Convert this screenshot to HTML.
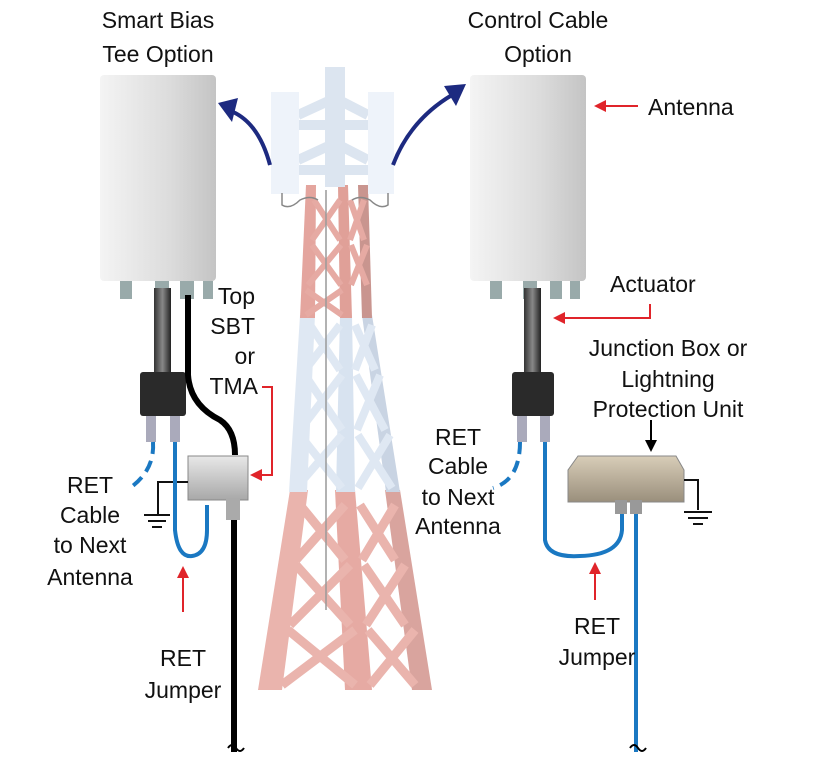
<!DOCTYPE html>
<html><head><style>
html,body{margin:0;padding:0;background:#fff;}
svg{display:block;}
text{font-family:"Liberation Sans",sans-serif;font-size:23px;fill:#111;}
</style></head><body>
<svg width="828" height="764" viewBox="0 0 828 764" xmlns="http://www.w3.org/2000/svg">
<defs>
<linearGradient id="ant" x1="0" x2="1">
<stop offset="0" stop-color="#f4f4f4"/><stop offset="0.6" stop-color="#dcdcdc"/><stop offset="1" stop-color="#c4c4c4"/>
</linearGradient>
<linearGradient id="cyl" x1="0" x2="1">
<stop offset="0" stop-color="#333"/><stop offset="0.5" stop-color="#888"/><stop offset="1" stop-color="#222"/>
</linearGradient>
<linearGradient id="box" x1="0" x2="0" y1="0" y2="1">
<stop offset="0" stop-color="#e8e8e8"/><stop offset="1" stop-color="#a8a8a8"/>
</linearGradient>
<linearGradient id="jb" x1="0" x2="0" y1="0" y2="1">
<stop offset="0" stop-color="#d8cdb8"/><stop offset="1" stop-color="#9a8f7c"/>
</linearGradient>
</defs>

<g stroke-linejoin="round">
 <polygon points="290,490 258,690 282,690 308,490" fill="#eab4ad"/>
 <polygon points="335,490 345,690 372,690 355,490" fill="#e6aaa3"/>
 <polygon points="385,490 412,690 432,690 400,490" fill="#d9a49e"/>
 <g stroke="#eab4ad" stroke-width="9" fill="none">
  <path d="M300,505 L345,560 M345,505 L296,560 M296,565 L350,625 M350,565 L290,625 M288,630 L355,685 M355,630 L282,685"/>
  <path d="M360,505 L395,560 M395,505 L362,560 M364,565 L405,625 M405,565 L366,625 M368,630 L415,685 M415,630 L370,685"/>
 </g>
 <polygon points="300,315 289,492 307,492 315,315" fill="#dfe8f3"/>
 <polygon points="340,315 336,492 355,492 352,315" fill="#d8e3f0"/>
 <polygon points="362,315 386,492 400,492 372,315" fill="#c9d4e3"/>
 <g stroke="#dfe8f3" stroke-width="8" fill="none">
  <path d="M310,325 L340,370 M340,325 L305,370 M305,375 L342,430 M342,375 L300,430 M300,435 L342,488 M342,435 L296,488"/>
  <path d="M355,325 L375,370 M372,325 L355,370 M356,375 L385,430 M380,375 L357,430 M358,435 L392,488 M390,435 L358,488"/>
 </g>
 <polygon points="306,185 300,318 315,318 316,185" fill="#e4a59e"/>
 <polygon points="338,185 340,318 352,318 348,185" fill="#e0a098"/>
 <polygon points="358,185 362,318 372,318 368,185" fill="#c9958f"/>
 <g stroke="#e6aaa3" stroke-width="6" fill="none">
  <path d="M314,200 L340,240 M340,200 L312,240 M312,245 L341,285 M341,245 L308,285 M306,290 L342,315 M342,290 L306,315"/>
  <path d="M350,200 L364,240 M364,200 L350,240 M351,245 L367,285 M367,245 L351,285"/>
 </g>
 <line x1="326" y1="190" x2="326" y2="610" stroke="#999" stroke-width="1.5"/>
 <rect x="325" y="67" width="20" height="120" fill="#dce5f0"/>
 <g stroke="#dce5f0" stroke-width="10" fill="none">
  <path d="M298,125 L368,125 M298,170 L368,170 M298,115 L335,98 L368,115 M298,160 L335,143 L368,160"/>
 </g>
 <rect x="271" y="92" width="28" height="102" fill="#eef3fa"/>
 <rect x="368" y="92" width="26" height="102" fill="#eef3fa"/>
 <path d="M282,193 L282,205 Q290,210 300,200 Q310,195 318,200" stroke="#888" stroke-width="1.5" fill="none"/>
 <path d="M388,193 L388,205 Q380,210 370,200 Q360,195 352,200" stroke="#888" stroke-width="1.5" fill="none"/>
</g>

<path d="M270,165 Q258,120 228,110" stroke="#1d2a80" stroke-width="4" fill="none"/>
<polygon points="218,103 238,98 232,122" fill="#1d2a80"/>
<path d="M393,165 Q410,120 452,95" stroke="#1d2a80" stroke-width="4" fill="none"/>
<polygon points="466,84 444,86 456,106" fill="#1d2a80"/>

<rect x="100" y="75" width="116" height="206" rx="4" fill="url(#ant)"/>
<rect x="470" y="75" width="116" height="206" rx="4" fill="url(#ant)"/>
<g fill="#9aa">
 <rect x="120" y="281" width="12" height="18"/><rect x="155" y="281" width="14" height="18"/><rect x="180" y="281" width="14" height="18"/><rect x="203" y="281" width="10" height="18"/>
 <rect x="490" y="281" width="12" height="18"/><rect x="523" y="281" width="14" height="18"/><rect x="550" y="281" width="12" height="18"/><rect x="570" y="281" width="10" height="18"/>
</g>

<rect x="154" y="288" width="17" height="88" fill="url(#cyl)"/>
<rect x="140" y="372" width="46" height="44" rx="3" fill="#2a2a2a"/>
<rect x="146" y="416" width="10" height="26" fill="#aab"/>
<rect x="170" y="416" width="10" height="26" fill="#aab"/>
<rect x="524" y="288" width="17" height="88" fill="url(#cyl)"/>
<rect x="512" y="372" width="42" height="44" rx="3" fill="#2a2a2a"/>
<rect x="517" y="416" width="10" height="26" fill="#aab"/>
<rect x="540" y="416" width="10" height="26" fill="#aab"/>

<path d="M188,295 L188,375 Q190,405 220,420 Q235,430 235,455" stroke="#000" stroke-width="6" fill="none"/>
<line x1="234" y1="495" x2="234" y2="752" stroke="#000" stroke-width="6"/>
<path d="M228,748 q4,-6 8,0 t8,0" stroke="#000" stroke-width="2" fill="none"/>
<rect x="188" y="456" width="60" height="44" fill="url(#box)" stroke="#888"/>
<rect x="226" y="498" width="14" height="22" fill="#aaa"/>
<path d="M188,482 L158,482 L158,515" stroke="#111" stroke-width="2" fill="none"/>
<path d="M144,515 L170,515 M148,521 L166,521 M152,527 L162,527" stroke="#111" stroke-width="2"/>
<path d="M153,442 Q155,470 130,488" stroke="#1a78c2" stroke-width="4" fill="none" stroke-dasharray="12,7"/>
<path d="M175,442 L175,530 Q178,558 192,556 Q207,554 207,530 L207,505" stroke="#1a78c2" stroke-width="4" fill="none"/>

<path d="M520,442 Q520,480 493,488" stroke="#1a78c2" stroke-width="4" fill="none" stroke-dasharray="12,7"/>
<path d="M545,442 L545,540 Q548,558 580,556 Q620,555 622,530 L622,510" stroke="#1a78c2" stroke-width="4" fill="none"/>
<line x1="636" y1="510" x2="636" y2="752" stroke="#1a78c2" stroke-width="4"/>
<path d="M630,748 q4,-6 8,0 t8,0" stroke="#000" stroke-width="2" fill="none"/>
<polygon points="568,470 578,456 676,456 684,470 684,502 568,502" fill="url(#jb)" stroke="#888"/>
<rect x="615" y="500" width="12" height="14" fill="#999"/><rect x="630" y="500" width="12" height="14" fill="#999"/>
<path d="M684,480 L698,480 L698,510" stroke="#111" stroke-width="2" fill="none"/>
<path d="M684,512 L712,512 M688,518 L708,518 M693,524 L703,524" stroke="#111" stroke-width="2"/>

<g stroke="#e0242a" stroke-width="2" fill="#e0242a">
 <line x1="638" y1="106" x2="606" y2="106"/><polygon points="594,106 606,100 606,112" stroke="none"/>
 <path d="M650,304 L650,318 L565,318" fill="none"/><polygon points="553,318 565,312 565,324" stroke="none"/>
 <path d="M262,387 L272,387 L272,475 L262,475" fill="none"/><polygon points="250,475 262,469 262,481" stroke="none"/>
 <line x1="183" y1="612" x2="183" y2="578"/><polygon points="183,566 177,578 189,578" stroke="none"/>
 <line x1="595" y1="600" x2="595" y2="574"/><polygon points="595,562 589,574 601,574" stroke="none"/>
</g>
<line x1="651" y1="420" x2="651" y2="442" stroke="#000" stroke-width="2"/>
<polygon points="651,452 645,440 657,440" fill="#000"/>

<text x="158" y="28" text-anchor="middle">Smart Bias</text>
<text x="158" y="62" text-anchor="middle">Tee Option</text>
<text x="538" y="28" text-anchor="middle">Control Cable</text>
<text x="538" y="62" text-anchor="middle">Option</text>
<text x="648" y="115">Antenna</text>
<text x="610" y="292">Actuator</text>
<text x="668" y="356" text-anchor="middle">Junction Box or</text>
<text x="668" y="387" text-anchor="middle">Lightning</text>
<text x="668" y="417" text-anchor="middle">Protection Unit</text>
<text x="255" y="304" text-anchor="end">Top</text>
<text x="255" y="334" text-anchor="end">SBT</text>
<text x="255" y="364" text-anchor="end">or</text>
<text x="258" y="394" text-anchor="end">TMA</text>
<text x="90" y="493" text-anchor="middle">RET</text>
<text x="90" y="523" text-anchor="middle">Cable</text>
<text x="90" y="553" text-anchor="middle">to Next</text>
<text x="90" y="585" text-anchor="middle">Antenna</text>
<text x="183" y="666" text-anchor="middle">RET</text>
<text x="183" y="698" text-anchor="middle">Jumper</text>
<text x="458" y="445" text-anchor="middle">RET</text>
<text x="458" y="474" text-anchor="middle">Cable</text>
<text x="458" y="505" text-anchor="middle">to Next</text>
<text x="458" y="534" text-anchor="middle">Antenna</text>
<text x="597" y="634" text-anchor="middle">RET</text>
<text x="597" y="665" text-anchor="middle">Jumper</text>
</svg>
</body></html>
